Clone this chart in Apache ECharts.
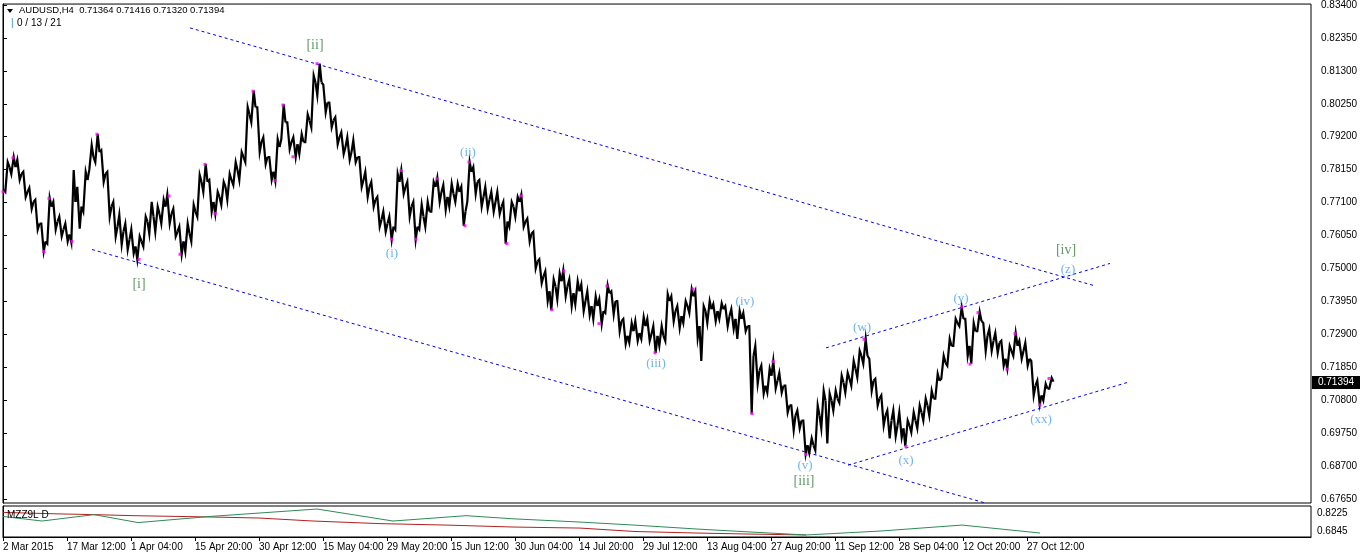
<!DOCTYPE html>
<html><head><meta charset="utf-8">
<script src="https://cdn.jsdelivr.net/npm/echarts@6/dist/echarts.min.js"></script>
<style>html,body{margin:0;padding:0;background:#fff}#c{width:1362px;height:556px}</style>
</head><body><div id="c"></div>
<script>
// ---- data (daily OHLC, one entry per trading day from 3 Mar 2015) ----
const xLabels = ['2 Mar 2015','17 Mar 12:00','1 Apr 04:00','15 Apr 20:00','30 Apr 12:00','15 May 04:00','29 May 20:00','15 Jun 12:00','30 Jun 04:00','14 Jul 20:00','29 Jul 12:00','13 Aug 04:00','27 Aug 20:00','11 Sep 12:00','28 Sep 04:00','12 Oct 20:00','27 Oct 12:00'];
const priceTicks = [0.67650,0.68700,0.69750,0.70800,0.71850,0.72900,0.73950,0.75000,0.76050,0.77100,0.78150,0.79200,0.80250,0.81300,0.82350,0.83400];
const subTicks = [0.6845,0.8225];
const firstOpen = 0.7750;
const highs = [
0.7839,0.7855,0.7846,0.7808,0.7757,0.7719,0.7643,0.7725,0.7712,0.7665,
0.7643,0.7814,0.7760,0.7808,0.7893,0.7928,0.7877,0.7808,0.7712,0.7671,
0.7643,0.7624,0.7602,0.7665,0.7712,0.7697,0.7719,0.7735,0.7690,0.7633,
0.7643,0.7703,0.7798,0.7833,0.7782,0.7744,0.7776,0.7801,0.7839,0.7871,
0.8014,0.8067,0.8014,0.7918,0.7855,0.7912,0.8023,0.7966,0.7918,0.7928,
0.7991,0.8115,0.8153,0.8086,0.8029,0.7982,0.7934,0.7918,0.7909,0.7855,
0.7808,0.7776,0.7728,0.7681,0.7665,0.7801,0.7814,0.7776,0.7712,0.7703,
0.7712,0.7776,0.7789,0.7766,0.7770,0.7770,0.7760,0.7839,0.7823,0.7782,
0.7760,0.7744,0.7744,0.7712,0.7712,0.7728,0.7735,0.7659,0.7617,0.7529,
0.7491,0.7465,0.7484,0.7494,0.7465,0.7459,0.7449,0.7427,0.7411,0.7402,
0.7446,0.7427,0.7396,0.7339,0.7326,0.7332,0.7345,0.7339,0.7316,0.7316,
0.7418,0.7411,0.7380,0.7396,0.7434,0.7427,0.7380,0.7396,0.7386,0.7389,
0.7380,0.7370,0.7364,0.7358,0.7316,0.7253,0.7190,0.7180,0.7205,0.7167,
0.7126,0.7063,0.7047,0.7015,0.6958,0.7063,0.7110,0.7101,0.7110,0.7158,
0.7167,0.7205,0.7237,0.7275,0.7212,0.7148,0.7095,0.7047,0.7047,0.7041,
0.7015,0.7041,0.7063,0.7085,0.7110,0.7164,0.7221,0.7275,0.7339,0.7376,
0.7339,0.7326,0.7361,0.7326,0.7307,0.7294,0.7269,0.7253,0.7294,0.7269,
0.7263,0.7205,0.7142,0.7132,0.7151];
const lows = [
0.7744,0.7801,0.7782,0.7728,0.7690,0.7624,0.7554,0.7579,0.7624,0.7602,
0.7586,0.7583,0.7627,0.7681,0.7814,0.7839,0.7776,0.7665,0.7602,0.7576,
0.7560,0.7548,0.7529,0.7570,0.7611,0.7617,0.7643,0.7643,0.7602,0.7545,
0.7554,0.7586,0.7665,0.7744,0.7681,0.7674,0.7703,0.7719,0.7766,0.7782,
0.7839,0.7966,0.7871,0.7833,0.7782,0.7779,0.7912,0.7880,0.7855,0.7865,
0.7903,0.7950,0.8052,0.7998,0.7950,0.7896,0.7865,0.7846,0.7839,0.7760,
0.7728,0.7697,0.7633,0.7617,0.7592,0.7624,0.7738,0.7665,0.7592,0.7624,
0.7633,0.7681,0.7712,0.7687,0.7697,0.7712,0.7636,0.7712,0.7738,0.7697,
0.7690,0.7681,0.7674,0.7579,0.7633,0.7665,0.7633,0.7586,0.7500,0.7453,
0.7396,0.7367,0.7402,0.7411,0.7380,0.7386,0.7364,0.7351,0.7339,0.7323,
0.7358,0.7354,0.7300,0.7259,0.7263,0.7269,0.7275,0.7269,0.7231,0.7253,
0.7269,0.7332,0.7310,0.7326,0.7358,0.7278,0.7205,0.7326,0.7332,0.7339,
0.7316,0.7307,0.7275,0.7300,0.7037,0.7133,0.7101,0.7104,0.7117,0.7104,
0.7041,0.6984,0.6990,0.6908,0.6911,0.6920,0.6990,0.6942,0.7047,0.7072,
0.7104,0.7126,0.7152,0.7196,0.7110,0.7063,0.6999,0.6958,0.6965,0.6961,
0.6933,0.6977,0.6990,0.7015,0.7031,0.7085,0.7148,0.7190,0.7253,0.7316,
0.7221,0.7196,0.7300,0.7237,0.7237,0.7231,0.7190,0.7180,0.7221,0.7212,
0.7190,0.7095,0.7066,0.7079,0.7117];
const closes = [
0.7823,0.7823,0.7801,0.7744,0.7712,0.7643,0.7586,0.7697,0.7649,0.7624,
0.7608,0.7712,0.7697,0.7782,0.7855,0.7871,0.7801,0.7697,0.7633,0.7618,
0.7592,0.7570,0.7586,0.7649,0.7665,0.7674,0.7697,0.7674,0.7617,0.7586,
0.7611,0.7681,0.7776,0.7776,0.7712,0.7728,0.7760,0.7782,0.7814,0.7855,
0.7991,0.8014,0.7903,0.7855,0.7808,0.7887,0.7966,0.7903,0.7896,0.7903,
0.7972,0.8093,0.8093,0.8029,0.7972,0.7918,0.7887,0.7871,0.7855,0.7782,
0.7760,0.7719,0.7655,0.7643,0.7633,0.7776,0.7760,0.7697,0.7633,0.7665,
0.7681,0.7760,0.7744,0.7728,0.7738,0.7744,0.7681,0.7808,0.7776,0.7728,
0.7719,0.7712,0.7697,0.7649,0.7697,0.7712,0.7649,0.7611,0.7522,0.7475,
0.7427,0.7443,0.7459,0.7443,0.7421,0.7427,0.7396,0.7380,0.7380,0.7364,
0.7421,0.7396,0.7332,0.7285,0.7300,0.7294,0.7316,0.7291,0.7285,0.7285,
0.7396,0.7364,0.7348,0.7380,0.7411,0.7316,0.7364,0.7370,0.7364,0.7370,
0.7348,0.7339,0.7339,0.7316,0.7221,0.7174,0.7126,0.7158,0.7142,0.7126,
0.7063,0.7031,0.7015,0.6936,0.6936,0.7031,0.7079,0.7079,0.7085,0.7136,
0.7148,0.7180,0.7221,0.7221,0.7142,0.7085,0.7031,0.7015,0.6999,0.6990,
0.6999,0.7015,0.7041,0.7063,0.7085,0.7142,0.7199,0.7253,0.7326,0.7339,
0.7253,0.7300,0.7332,0.7285,0.7269,0.7263,0.7212,0.7237,0.7253,0.7237,
0.7212,0.7126,0.7095,0.7117,0.7139];
const lastQuote = {o:0.71364, h:0.71416, l:0.71320, c:0.71394};
// zigzag pivot points [H4 bar index, price]
const pivots = [[0,0.7744],[10,0.7853],[41,0.7554],[46,0.7723],[69,0.7586],[94,0.7928],[136,0.7529],[166,0.7731],[177,0.7545],[202,0.7832],[212,0.7675],[250,0.8065],[272,0.7780],[280,0.8021],[290,0.7856],[314,0.8153],[389,0.7593],[398,0.7812],[413,0.7593],[434,0.7786],[462,0.7636],[466,0.7839],[504,0.7579],[518,0.7731],[549,0.7368],[561,0.7491],[596,0.7324],[604,0.7444],[652,0.7231],[690,0.7434],[749,0.7037],[770,0.7203],[803,0.6907],[861,0.7274],[903,0.6932],[959,0.7377],[967,0.7195],[975,0.7359],[1004,0.7179],[1012,0.7292],[1037,0.7065],[1046,0.7149]];
// trend lines [[bar, price],[bar, price]]
const trendLines = [
  [[187,0.82670],[1090,0.74462]],
  [[89,0.75603],[982,0.67522]],
  [[823,0.72466],[1107,0.75159]],
  [[845,0.68726],[1127,0.71388]]
];
// wave labels [bar, price, text]
const majorWaves = [[312,0.82099,'[ii]'],[136,0.74494,'[i]'],[801,0.68219,'[iii]'],[1063,0.75572,'[iv]']];
const minorWaves = [[389,0.75476,'(i)'],[465,0.78709,'(ii)'],[653,0.71959,'(iii)'],[742,0.73955,'(iv)'],[802,0.68726,'(v)'],[859,0.73100,'(w)'],[903,0.68884,'(x)'],[958,0.74050,'(y)'],[1038,0.70184,'(xx)'],[1065,0.74969,'(z)']];
// sub-window indicator MZZ9L D
const redLine = [[0,0.827],[59,0.815],[91,0.810],[131,0.802],[207,0.792],[256,0.784],[310,0.761],[377,0.741],[443,0.730],[510,0.715],[577,0.707],[631,0.681],[693,0.669],[747,0.661],[803,0.654]];
const greenLine = [[0,0.796],[39,0.761],[91,0.810],[135,0.749],[207,0.796],[314,0.853],[390,0.761],[463,0.802],[510,0.778],[577,0.753],[631,0.730],[693,0.700],[747,0.677],[803,0.654],[877,0.684],[959,0.730],[1037,0.669]];

// ---- build ----
const BARS_PER_DAY = 6, LABEL_STEP = 64;
const candles = highs.map((h,i)=>[BARS_PER_DAY*i+3.5, i===0?firstOpen:closes[i-1], h, lows[i], closes[i]]);
const labelBars = xLabels.map((_,i)=>i*LABEL_STEP);
const FONT = '"Liberation Sans", Arial, sans-serif';

function renderDay(params, api){
  const b = api.value(0), o = api.value(1), h = api.value(2), l = api.value(3), c = api.value(4);
  const seq = c >= o ? [o,l,h,c] : [o,h,l,c];
  const offs = [-3,-1.2,1.2,3];
  const pts = seq.map((v,k)=>api.coord([b+offs[k], v]));
  return {type:'polyline', shape:{points:pts}, style:{stroke:'#000', lineWidth:2.2, fill:null, lineJoin:'miter'}};
}

const chart = echarts.init(document.getElementById('c'));
const series = [
  {type:'custom', xAxisIndex:0, yAxisIndex:0, data:candles, renderItem:renderDay, clip:true, z:3, silent:true},
  {type:'scatter', xAxisIndex:0, yAxisIndex:0, data:pivots, symbol:'rect', symbolSize:3, itemStyle:{color:'#ff00ff'}, z:4, silent:true},
  ...trendLines.map(t=>({type:'line', xAxisIndex:0, yAxisIndex:0, data:t, symbol:'none', lineStyle:{color:'#0000ff', width:1, type:[3,3]}, z:2, silent:true})),
  {type:'scatter', xAxisIndex:0, yAxisIndex:0, data:majorWaves, symbolSize:0.1, itemStyle:{color:'transparent'}, z:5, silent:true,
    label:{show:true, position:'inside', formatter:p=>p.data[2], color:'#3a7d3c', fontSize:14, fontFamily:'"Liberation Serif", serif'}},
  {type:'scatter', xAxisIndex:0, yAxisIndex:0, data:minorWaves, symbolSize:0.1, itemStyle:{color:'transparent'}, z:5, silent:true,
    label:{show:true, position:'inside', formatter:p=>p.data[2], color:'#4aa3ee', fontSize:13, fontFamily:'"Liberation Serif", serif'}},
  {type:'line', xAxisIndex:1, yAxisIndex:1, data:redLine, symbol:'none', lineStyle:{color:'#b22222', width:1}, silent:true},
  {type:'line', xAxisIndex:1, yAxisIndex:1, data:greenLine, symbol:'none', lineStyle:{color:'#2e8b57', width:1}, silent:true}
];
chart.setOption({
  animation:false,
  backgroundColor:'#fff',
  grid:[
    {left:3, top:1, width:1308, height:502, show:true, borderColor:'#000', borderWidth:1, backgroundColor:'#fff'},
    {left:3, top:506, width:1308, height:31, show:true, borderColor:'#000', borderWidth:1, backgroundColor:'#fff'}
  ],
  xAxis:[
    {type:'value', gridIndex:0, min:0, max:1308, show:false},
    {type:'value', gridIndex:1, min:0, max:1308, splitLine:{show:false},
     axisLine:{show:true, lineStyle:{color:'#000'}},
     axisTick:{show:true, length:4, lineStyle:{color:'#000'}, customValues:labelBars},
     axisLabel:{customValues:labelBars, formatter:v=>xLabels[Math.round(v/LABEL_STEP)]||'', align:'left', margin:5, color:'#000', fontSize:10, fontFamily:FONT, showMinLabel:true, showMaxLabel:true}}
  ],
  yAxis:[
    {type:'value', gridIndex:0, position:'right', min:0.6752, max:0.8343, splitLine:{show:false}, scale:true,
     axisLine:{show:true, lineStyle:{color:'#000'}},
     axisTick:{show:true, length:4, lineStyle:{color:'#000'}, customValues:priceTicks},
     axisLabel:{customValues:priceTicks, formatter:v=>v.toFixed(5), margin:10, color:'#000', fontSize:10, fontFamily:FONT}},
    {type:'value', gridIndex:1, position:'right', min:0.6385, max:0.8762, splitLine:{show:false}, scale:true,
     axisLine:{show:true, lineStyle:{color:'#000'}},
     axisTick:{show:false, customValues:subTicks},
     axisLabel:{customValues:subTicks, formatter:v=>v.toFixed(4), margin:6, color:'#000', fontSize:10, fontFamily:FONT}}
  ],
  series:series
});

const py = chart.convertToPixel({yAxisIndex:0}, lastQuote.c);
chart.setOption({graphic:[
  {type:'polygon', shape:{points:[[7,9],[13,9],[10,13]]}, style:{fill:'#000'}, z:10},
  {type:'text', left:19, top:5, style:{text:'AUDUSD,H4  '+[lastQuote.o,lastQuote.h,lastQuote.l,lastQuote.c].map(v=>v.toFixed(5)).join(' '), font:'9.5px '+FONT, fill:'#000'}, z:10},
  {type:'text', left:11, top:18, style:{text:'|', font:'10px '+FONT, fill:'#3a8ee6'}, z:10},
  {type:'text', left:17, top:18, style:{text:'0 / 13 / 21', font:'10px '+FONT, fill:'#000'}, z:10},
  {type:'text', left:7, top:510, style:{text:'MZZ9L D', font:'10px '+FONT, fill:'#000'}, z:10},
  {type:'rect', shape:{x:1312, y:Math.round(py)-6, width:48, height:13}, style:{fill:'#000'}, z:10},
  {type:'text', x:1336, y:Math.round(py)+0.5, style:{text:lastQuote.c.toFixed(5), font:'10px '+FONT, fill:'#fff', align:'center', verticalAlign:'middle'}, z:11}
]});
</script>
</body></html>
